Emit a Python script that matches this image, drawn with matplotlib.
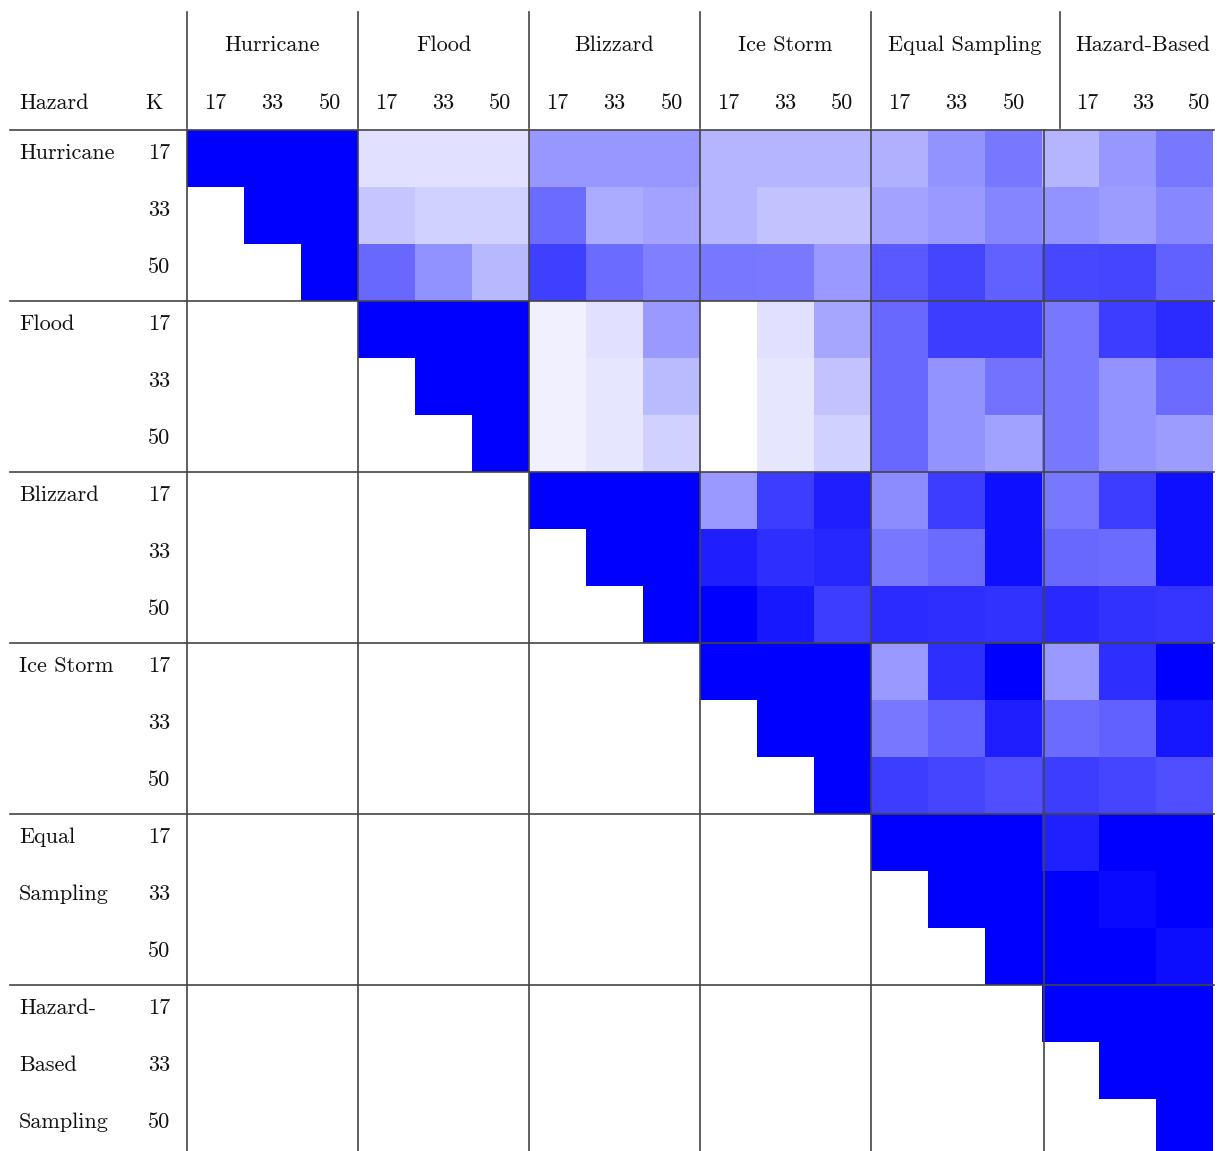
import numpy as np
import matplotlib.pyplot as plt
from matplotlib.colors import LinearSegmentedColormap

groups = ['Hurricane', 'Flood', 'Blizzard', 'Ice Storm', 'Equal Sampling', 'Hazard-Based']
row_labels = [['Hurricane'], ['Flood'], ['Blizzard'], ['Ice Storm'],
              ['Equal', 'Sampling'], ['Hazard-', 'Based', 'Sampling']]
k_values = ['17', '33', '50']

N = None
# similarity of each (hazard, K) pair, upper triangle only
hurricane_rows = [
    [1, 1, 1, .12, .12, .12, .41, .41, .41, .29, .29, .29, .31, .42, .53, .29, .41, .53],
    [N, 1, 1, .23, .18, .18, .58, .33, .36, .29, .24, .24, .36, .40, .48, .42, .39, .47],
    [N, N, 1, .59, .43, .28, .75, .58, .50, .53, .52, .40, .65, .73, .62, .72, .73, .62],
]
flood_rows = [
    [N, N, N, 1, 1, 1, .06, .12, .40, 0, .12, .35, .59, .76, .76, .53, .76, .83],
    [N, N, N, N, 1, 1, .06, .10, .27, 0, .10, .24, .59, .42, .55, .53, .42, .58],
    [N, N, N, N, N, 1, .06, .10, .18, 0, .10, .18, .59, .42, .37, .53, .42, .39],
]
blizzard_rows = [
    [N, N, N, N, N, N, 1, 1, 1, .40, .76, .88, .45, .76, .94, .53, .76, .94],
    [N, N, N, N, N, N, N, 1, 1, .88, .82, .85, .53, .58, .94, .59, .58, .94],
    [N, N, N, N, N, N, N, N, 1, 1, .90, .76, .83, .82, .80, .84, .80, .79],
]
ice_storm_rows = [
    [N, N, N, N, N, N, N, N, N, 1, 1, 1, .40, .82, 1, .40, .82, 1],
    [N, N, N, N, N, N, N, N, N, N, 1, 1, .53, .62, .88, .58, .62, .91],
    [N, N, N, N, N, N, N, N, N, N, N, 1, .76, .73, .69, .76, .73, .69],
]
equal_rows = [
    [N, N, N, N, N, N, N, N, N, N, N, N, 1, 1, 1, .87, 1, 1],
    [N, N, N, N, N, N, N, N, N, N, N, N, N, 1, 1, 1, .96, 1],
    [N, N, N, N, N, N, N, N, N, N, N, N, N, N, 1, 1, 1, .95],
]
hazard_based_rows = [
    [N, N, N, N, N, N, N, N, N, N, N, N, N, N, N, 1, 1, 1],
    [N, N, N, N, N, N, N, N, N, N, N, N, N, N, N, N, 1, 1],
    [N, N, N, N, N, N, N, N, N, N, N, N, N, N, N, N, N, 1],
]

all_rows = (hurricane_rows + flood_rows + blizzard_rows + ice_storm_rows
            + equal_rows + hazard_based_rows)
mat = np.array([[np.nan if v is None else v for v in r] for r in all_rows], dtype=float)

W, H = 1217, 1151
fig = plt.figure(figsize=(W / 100, H / 100), dpi=100)

# heatmap block: 18 cells of 57 px starting at (187, 130)
cell = 57
x0, y0 = 187, 130
n = mat.shape[0]
hm = fig.add_axes([x0 / W, 1 - (y0 + n * cell) / H, n * cell / W, n * cell / H])
cmap = LinearSegmentedColormap.from_list('wb', ['white', 'blue'])
cmap.set_bad('white')
hm.imshow(mat, cmap=cmap, vmin=0, vmax=1, interpolation='nearest',
          extent=(0, n, n, 0), aspect='auto')
hm.set_axis_off()

# overlay in pixel coordinates for the table text and rules
ax = fig.add_axes([0, 0, 1, 1])
ax.set_xlim(0, W)
ax.set_ylim(H, 0)
ax.set_axis_off()
ax.patch.set_alpha(0)

font = dict(family=['cmr10', 'DejaVu Serif'], fontsize=16, color='#111111')
line_kw = dict(color='#444444', lw=1.2)

# header
header_seps = [187, 358, 529, 700, 871, 1060]
group_centers = [272.5, 443.5, 614.5, 785.5, 965, 1143]
for x in header_seps:
    ax.plot([x, x], [12, 128], **line_kw)
for g, (name, cx) in enumerate(zip(groups, group_centers)):
    ax.text(cx, 45, name, ha='center', va='center', **font)
    if g < 5:
        xs = [x0 + (3 * g + i + 0.5) * cell for i in range(3)]
    else:
        xs = [1087, 1143, 1199]
    for x, k in zip(xs, k_values):
        ax.text(x, 103, k, ha='center', va='center', **font)
ax.text(19, 103, 'Hazard', ha='left', va='center', **font)
ax.text(154, 103, 'K', ha='center', va='center', **font)

# body rules
for b in range(6):
    y = y0 + 3 * b * cell
    ax.plot([10, 1214], [y, y], **line_kw)
for x in [187, 358, 529, 700, 871, 1044]:
    ax.plot([x, x], [y0, H], **line_kw)

# row labels
for b, lines in enumerate(row_labels):
    for i in range(3):
        y = y0 + (3 * b + i) * cell + 23
        ax.text(170, y, k_values[i], ha='right', va='center', **font)
        if i < len(lines):
            ax.text(19, y, lines[i], ha='left', va='center', **font)

fig.savefig('out.png', dpi=100)
